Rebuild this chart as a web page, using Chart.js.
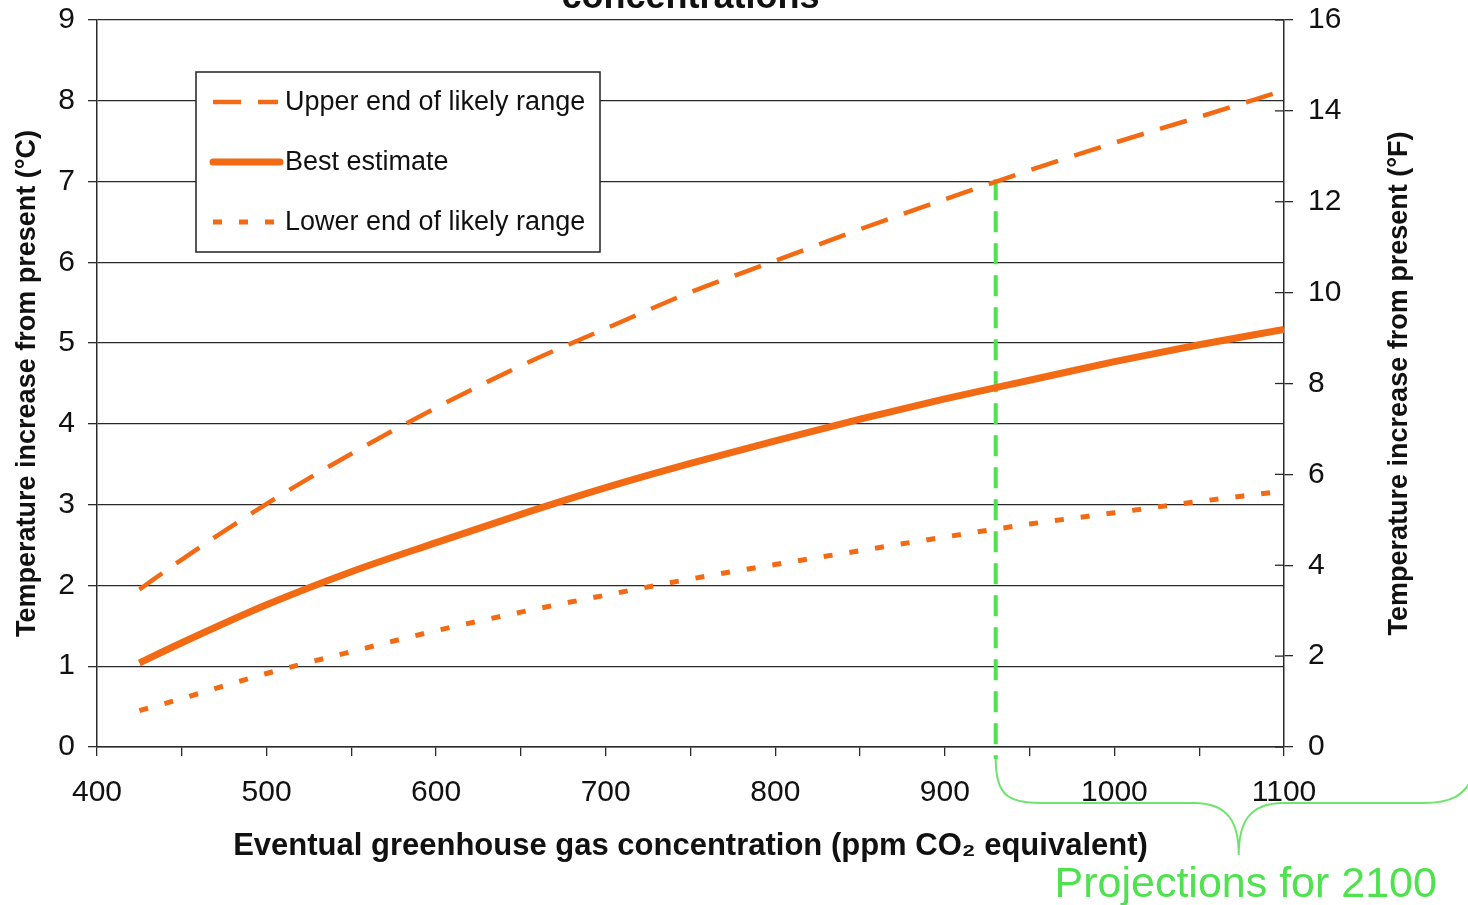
<!DOCTYPE html>
<html>
<head>
<meta charset="utf-8">
<title>Temperature increase vs greenhouse gas concentration</title>
<script src="https://cdn.jsdelivr.net/npm/chart.js@4.4.1/dist/chart.umd.min.js"></script>
<style>
  html, body { margin: 0; padding: 0; background: #fff; overflow: hidden; }
  #wrap { position: absolute; left: 0; top: -24px; width: 1468px; height: 929px; }
</style>
</head>
<body>
<div id="wrap"><canvas id="grafico"></canvas></div>
<script>
// ====== DATA ======
const concentrations = [425, 450, 500, 550, 600, 650, 700, 750, 800, 850, 900, 950, 1000, 1050, 1100];
const upperRange = [1.95, 2.32, 3.01, 3.63, 4.2, 4.72, 5.18, 5.63, 6.02, 6.41, 6.78, 7.14, 7.48, 7.8, 8.13];
const bestEstimate = [1.04, 1.29, 1.76, 2.17, 2.53, 2.88, 3.21, 3.51, 3.79, 4.06, 4.31, 4.54, 4.77, 4.98, 5.17];
const lowerRange = [0.45, 0.6, 0.91, 1.18, 1.44, 1.67, 1.88, 2.08, 2.26, 2.43, 2.6, 2.76, 2.9, 3.04, 3.17];

const seriesLabels = ["Upper end of likely range", "Best estimate", "Lower end of likely range"];

// projection marker (green dashed line)
const markerPpm = [930, 930];
const markerTemp = [7.03, -0.15];

// AXES
const xTicksLabeled = [400, 500, 600, 700, 800, 900, 1000, 1100];
const celsiusTicks = [0, 1, 2, 3, 4, 5, 6, 7, 8, 9];
const fahrenheitTicks = [0, 2, 4, 6, 8, 10, 12, 14, 16];

const chartTitle = "concentrations";
const xTitle = "Eventual greenhouse gas concentration (ppm CO\u2082 equivalent)";
const leftTitle = "Temperature increase from present (\u00B0C)";
const rightTitle = "Temperature increase from present (\u00B0F)";
const projectionText = "Projections for 2100";

// STYLES
const orange = "#f26a14";
const green = "#4ee24e";
const gridColor = "#2a2a2a";
const textColor = "#111";
const fontFamily = "'Liberation Sans', Arial, sans-serif";

Chart.defaults.font.family = fontFamily;
Chart.defaults.color = textColor;

function pontos(xs, ys) {
  return xs.map((x, i) => ({ x: x, y: ys[i] }));
}

// ====== EXTRAS (legend, right title, brace) ======
const extras = {
  id: "extras",
  afterDraw(chart) {
    const { ctx, chartArea, scales } = chart;
    const y2 = scales.y2;
    const xs = scales.x;

    ctx.save();

    // inner ticks of the right axis
    ctx.strokeStyle = gridColor;
    ctx.lineWidth = 1.3;
    y2.ticks.forEach((t, i) => {
      const py = y2.getPixelForTick(i);
      ctx.beginPath();
      ctx.moveTo(chartArea.right - 9, py);
      ctx.lineTo(chartArea.right, py);
      ctx.stroke();
    });

    // right axis title (reads bottom to top)
    ctx.save();
    ctx.fillStyle = textColor;
    ctx.font = "bold 27px " + fontFamily;
    ctx.textAlign = "center";
    ctx.textBaseline = "middle";
    ctx.translate(chartArea.right + 116, (chartArea.top + chartArea.bottom) / 2);
    ctx.rotate(-Math.PI / 2);
    ctx.fillText(rightTitle, 0, 0);
    ctx.restore();

    // legend box
    const lx = chartArea.left + 99;
    const ly = chartArea.top + 52;
    ctx.fillStyle = "#fff";
    ctx.fillRect(lx, ly, 404, 180);
    ctx.strokeStyle = "#222";
    ctx.lineWidth = 1.5;
    ctx.strokeRect(lx, ly, 404, 180);

    ctx.font = "27px " + fontFamily;
    ctx.textAlign = "left";
    ctx.textBaseline = "middle";
    chart.data.datasets.slice(0, 3).forEach((ds, i) => {
      const ry = ly + 30 + i * 60;
      ctx.save();
      ctx.strokeStyle = ds.borderColor;
      ctx.lineWidth = ds.borderWidth;
      ctx.lineCap = i === 1 ? "round" : "butt";
      ctx.setLineDash(ds.borderDash || []);
      ctx.beginPath();
      ctx.moveTo(lx + 17, ry);
      ctx.lineTo(lx + (i === 1 ? 84 : 82), ry);
      ctx.stroke();
      ctx.restore();
      ctx.fillStyle = textColor;
      ctx.fillText(ds.label, lx + 89, ry + 1);
    });

    // curly brace under the axis
    const bx = xs.getPixelForValue(markerPpm[0]);
    const top = chartArea.bottom + 12;
    const mid = chartArea.bottom + 56;
    const tipX = bx + 243;
    const tipY = chartArea.bottom + 108;
    ctx.strokeStyle = "#6fe36f";
    ctx.lineWidth = 2;
    ctx.beginPath();
    ctx.moveTo(bx, top);
    ctx.bezierCurveTo(bx, mid - 8, bx + 12, mid, bx + 45, mid);
    ctx.lineTo(tipX - 45, mid);
    ctx.bezierCurveTo(tipX - 10, mid, tipX, mid + 20, tipX, tipY);
    ctx.bezierCurveTo(tipX, mid + 20, tipX + 10, mid, tipX + 45, mid);
    ctx.lineTo(chart.width - 45, mid);
    ctx.bezierCurveTo(chart.width - 15, mid, chart.width - 5, mid - 8, chart.width + 5, mid - 25);
    ctx.stroke();

    ctx.fillStyle = green;
    ctx.font = "43px " + fontFamily;
    ctx.textAlign = "center";
    ctx.textBaseline = "alphabetic";
    ctx.fillText(projectionText, tipX + 7, chartArea.bottom + 150);

    ctx.restore();
  }
};

// ====== CHART ======
const ctx = document.getElementById("grafico").getContext("2d");

new Chart(ctx, {
  type: "line",
  data: {
    datasets: [
      {
        label: seriesLabels[0],
        data: pontos(concentrations, upperRange),
        borderColor: orange,
        borderWidth: 4.5,
        borderDash: [28, 17],
        pointRadius: 0,
        cubicInterpolationMode: "monotone",
        yAxisID: "y"
      },
      {
        label: seriesLabels[1],
        data: pontos(concentrations, bestEstimate),
        borderColor: orange,
        borderWidth: 7,
        pointRadius: 0,
        cubicInterpolationMode: "monotone",
        yAxisID: "y"
      },
      {
        label: seriesLabels[2],
        data: pontos(concentrations, lowerRange),
        borderColor: orange,
        borderWidth: 5,
        borderDash: [9, 17],
        pointRadius: 0,
        cubicInterpolationMode: "monotone",
        yAxisID: "y"
      },
      {
        label: "projection",
        data: pontos(markerPpm, markerTemp),
        borderColor: green,
        borderWidth: 4,
        borderDash: [21, 11],
        pointRadius: 0,
        clip: false,
        yAxisID: "y"
      }
    ]
  },
  options: {
    responsive: true,
    maintainAspectRatio: false,
    animation: false,
    layout: { padding: { top: 0.8, left: 0, right: 0, bottom: 0 } },
    plugins: {
      legend: { display: false },
      tooltip: { enabled: false },
      title: {
        display: true,
        fullSize: false,
        text: chartTitle,
        color: textColor,
        font: { size: 36, weight: "bold" },
        padding: { top: 0, bottom: 0 }
      }
    },
    scales: {
      x: {
        type: "linear",
        min: 400,
        max: 1100,
        afterFit: (s) => { s.height = 158; },
        afterBuildTicks: (s) => {
          const all = [];
          for (let i = 0; i < xTicksLabeled.length; i++) {
            all.push({ value: xTicksLabeled[i] });
            if (i < xTicksLabeled.length - 1) all.push({ value: (xTicksLabeled[i] + xTicksLabeled[i + 1]) / 2 });
          }
          s.ticks = all;
        },
        ticks: {
          autoSkip: false,
          maxRotation: 0,
          padding: 19,
          color: textColor,
          font: { size: 30 },
          callback: (v) => (xTicksLabeled.includes(v) ? String(v) : "")
        },
        grid: { drawOnChartArea: false, drawTicks: true, tickLength: 9, color: gridColor, lineWidth: 1.3 },
        border: { display: true, color: gridColor, width: 1.5 },
        title: {
          display: true,
          text: xTitle,
          color: textColor,
          font: { size: 31, weight: "bold" },
          padding: { top: 0, bottom: 40 }
        }
      },
      y: {
        position: "left",
        min: 0,
        max: 9,
        afterFit: (s) => { s.width = 97; },
        afterBuildTicks: (s) => { s.ticks = celsiusTicks.map((v) => ({ value: v })); },
        ticks: { padding: 13, color: textColor, font: { size: 30 } },
        grid: { drawOnChartArea: true, drawTicks: true, tickLength: 9, color: gridColor, lineWidth: 1.3 },
        border: { display: true, color: gridColor, width: 1.5 },
        title: {
          display: true,
          text: leftTitle,
          color: textColor,
          font: { size: 27, weight: "bold" },
          padding: { top: 11, bottom: 0 }
        }
      },
      y2: {
        position: "right",
        min: 0,
        max: 16,
        afterFit: (s) => { s.width = 184; },
        afterBuildTicks: (s) => { s.ticks = fahrenheitTicks.map((v) => ({ value: v })); },
        ticks: { padding: 15, color: textColor, font: { size: 30 } },
        grid: { drawOnChartArea: false, drawTicks: true, tickLength: 9, color: gridColor, lineWidth: 1.3 },
        border: { display: true, color: gridColor, width: 1.5 }
      }
    }
  },
  plugins: [extras]
});
</script>
</body>
</html>
